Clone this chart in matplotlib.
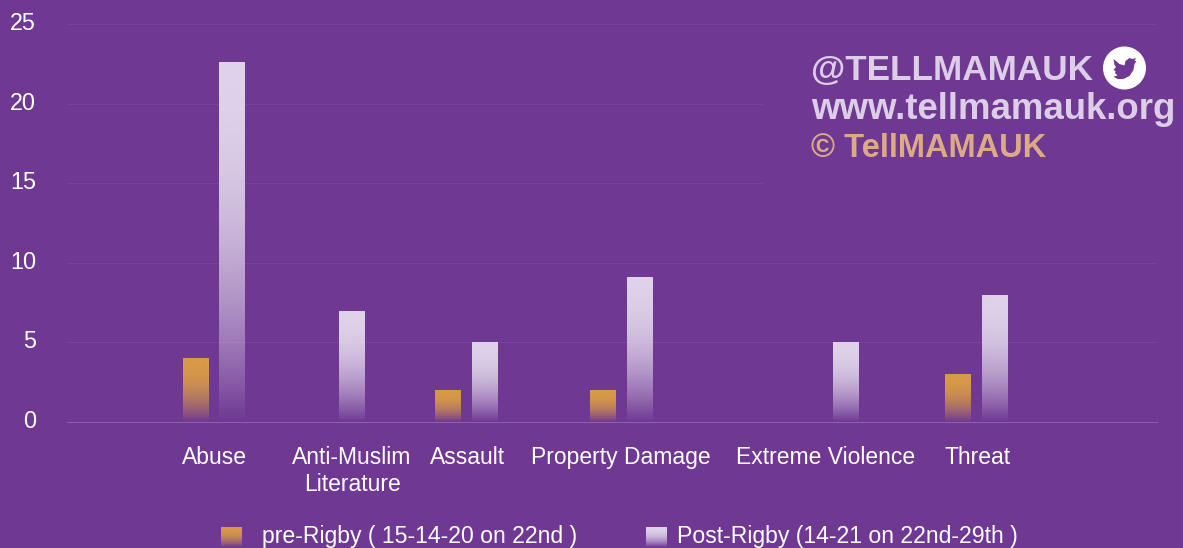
import numpy as np
import matplotlib
matplotlib.use('Agg')
import matplotlib.pyplot as plt
from matplotlib.colors import to_rgb
from matplotlib.patches import Circle, Polygon, Rectangle

categories = ['Abuse', 'Anti-Muslim\nLiterature', 'Assault', 'Property Damage', 'Extreme Violence', 'Threat']
pre_rigby = [4, 0, 2, 2, 0, 3]
post_rigby = [22.6, 7, 5, 9.1, 5, 8]
y_ticks = [0, 5, 10, 15, 20, 25]
pre_label = 'pre-Rigby ( 15-14-20 on 22nd )'
post_label = 'Post-Rigby (14-21 on 22nd-29th )'

W, H = 1183, 548
BG = '#6f3893'
ORANGE = '#d99b47'
LILAC = '#dfd3ea'

# the groups are not evenly spaced in the original, x axis is in pixels
group_x = [214, 334, 466.5, 621.5, 828, 976.5]
label_x = [214, 352, 468, 620.5, 825.5, 977.5]
pre_off, post_off = -18.5, 18

plt.rcParams['font.family'] = ['Liberation Sans', 'DejaVu Sans']


def fx(x):
    return x / W


def fy(y):
    return 1 - y / H


def gradient(rgb, power=2.2):
    """rgba column, full colour on top and fading out to the bottom"""
    t = np.linspace(0, 1, 256)
    img = np.zeros((256, 1, 4))
    img[..., :3] = to_rgb(rgb)
    img[:, 0, 3] = 1 - t ** power
    return img


def grad_bars(ax, xs, values, color, width=26):
    bars = ax.bar(xs, values, width=width, color='none', linewidth=0)
    for b, v in zip(bars, values):
        if v == 0:
            continue
        x0 = b.get_x()
        im = ax.imshow(gradient(color), extent=(x0, x0 + b.get_width(), 0, v),
                       aspect='auto', origin='upper', zorder=3, interpolation='bilinear')
        im.set_clip_path(b)


fig = plt.figure(figsize=(W / 100, H / 100), dpi=100, facecolor=BG)
ax = fig.add_axes([fx(67), fy(422), fx(1157 - 67), fy(24) - fy(422)], facecolor=BG)

grad_bars(ax, [x + pre_off for x in group_x], pre_rigby, ORANGE)
grad_bars(ax, [x + post_off for x in group_x], post_rigby, LILAC)

ax.set_xlim(67, 1157)
ax.set_ylim(0, 25)
ax.set_yticks(y_ticks)
ax.set_yticklabels([])
ax.set_xticks([])
ax.tick_params(length=0)
ax.grid(axis='y', color='#784399', linewidth=0.72, zorder=0)
ax.set_axisbelow(True)
for s in ax.spines.values():
    s.set_visible(False)
ax.spines['bottom'].set_visible(True)
ax.spines['bottom'].set_color('#8d62a9')
ax.spines['bottom'].set_linewidth(0.72)

# tick labels placed by hand, they sit left of the axes and off the groups
for v in y_ticks:
    y = ax.transData.transform((0, v))[1] / H
    fig.text(fx(36), y + 0.5 / H, str(v), color='white', fontsize=16.8, ha='right', va='center')
for lab, x in zip(categories, label_x):
    fig.text(fx(x), fy(446), lab, color='white', fontsize=16.5, ha='center', va='top', linespacing=1.23)

# legend
for x, c in zip([221, 646], [ORANGE, LILAC]):
    sw = fig.add_axes([fx(x), fy(547), 21 / W, 20 / H])
    sw.imshow(gradient(c), aspect='auto', interpolation='bilinear')
    sw.axis('off')
fig.text(fx(262), fy(537), pre_label, color='white', fontsize=16.6, ha='left', va='center')
fig.text(fx(677), fy(537), post_label, color='white', fontsize=16.6, ha='left', va='center')

# watermark, sits on a plain patch that hides the grid
fig.add_artist(Rectangle((fx(763), fy(192)), fx(W - 763), fy(34) - fy(192), transform=fig.transFigure,
                         facecolor=BG, edgecolor='none', zorder=4))
fig.text(fx(811), fy(80), '@TELLMAMAUK', color='#dccee6', fontsize=25.3, fontweight='bold', va='baseline', zorder=5)
fig.text(fx(811), fy(119), 'www.tellmamauk.org', color='#dccee6', fontsize=26.4, fontweight='bold', va='baseline', zorder=5)
fig.text(fx(811), fy(157), '\u00a9 TellMAMAUK', color='#dcab85', fontsize=23.5, fontweight='bold', va='baseline', zorder=5)

# twitter badge
badge = fig.add_axes([fx(1102.5), fy(90), 44 / W, 44 / H], zorder=6)
badge.set_xlim(-22, 22)
badge.set_ylim(-22, 22)
badge.axis('off')
badge.add_patch(Circle((0, 0), 21.5, facecolor='white', edgecolor='none'))
bird = [(-11, 9), (-5, 4), (0, 2.5), (1, 7), (5, 10), (8, 9), (11.5, 10), (10, 7), (12, 7), (10, 4),
        (9, -2), (5, -8), (-1, -11), (-7, -11), (-11, -8.5), (-7, -7.5), (-9.5, -5), (-9, -3),
        (-11, -2), (-8.5, 1), (-10, 3)]
badge.add_patch(Polygon(bird, closed=True, facecolor=BG, edgecolor='none'))

fig.savefig('out.png', dpi=100, facecolor=BG)
